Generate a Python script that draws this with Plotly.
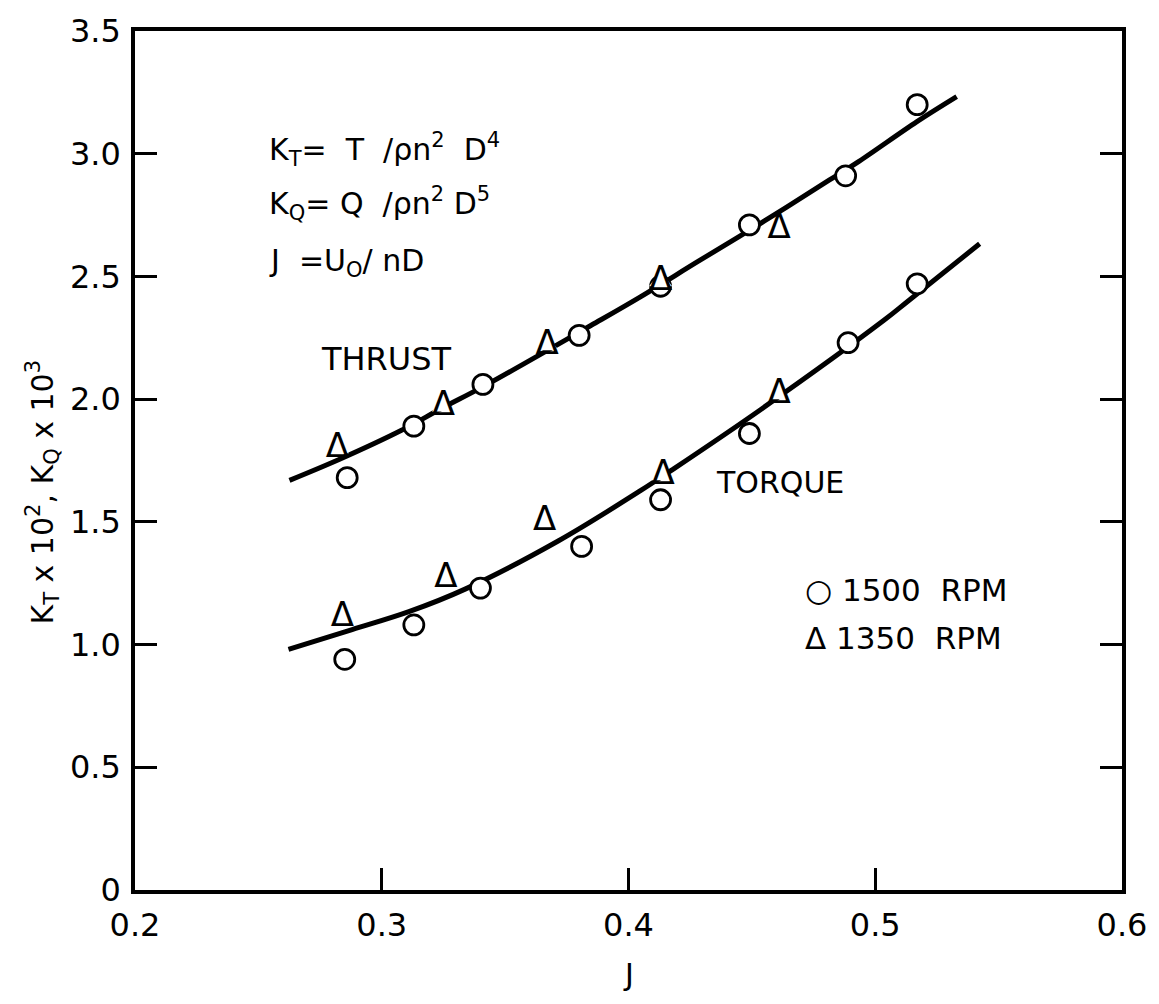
import plotly.graph_objects as go

# ---- data ----
# Thrust coefficient K_T x 10^2
j_thrust_1500 = [0.286, 0.313, 0.341, 0.380, 0.413, 0.449, 0.488, 0.517]
kt_1500 = [1.68, 1.89, 2.06, 2.26, 2.46, 2.71, 2.91, 3.20]
j_thrust_1350 = [0.282, 0.325, 0.367, 0.413, 0.461]
kt_1350 = [1.80, 1.97, 2.22, 2.48, 2.69]

# Torque coefficient K_Q x 10^3
j_torque_1500 = [0.285, 0.313, 0.340, 0.381, 0.413, 0.449, 0.489, 0.517]
kq_1500 = [0.94, 1.08, 1.23, 1.40, 1.59, 1.86, 2.23, 2.47]
j_torque_1350 = [0.284, 0.326, 0.366, 0.414, 0.461]
kq_1350 = [1.11, 1.27, 1.50, 1.69, 2.02]

# faired curves
j_thrust_curve = [0.2626, 0.2827, 0.3078, 0.3247, 0.3409, 0.3849, 0.4050, 0.4280, 0.4551, 0.4813, 0.4934, 0.5169, 0.5330]
kt_curve = [1.669, 1.754, 1.872, 1.965, 2.050, 2.301, 2.418, 2.560, 2.726, 2.892, 2.969, 3.131, 3.233]
j_torque_curve = [0.2622, 0.2880, 0.3110, 0.3340, 0.3715, 0.4050, 0.4180, 0.4535, 0.5035, 0.5136, 0.5423]
kq_curve = [0.980, 1.061, 1.134, 1.227, 1.422, 1.628, 1.714, 1.957, 2.321, 2.402, 2.633]

x_ticks = [0.2, 0.3, 0.4, 0.5, 0.6]
x_tick_labels = ["0.2", "0.3", "0.4", "0.5", "0.6"]
y_ticks = [0, 0.5, 1.0, 1.5, 2.0, 2.5, 3.0, 3.5]
y_tick_labels = ["0", "0.5", "1.0", "1.5", "2.0", "2.5", "3.0", "3.5"]

FONT = "DejaVu Sans"
NB = "\u00a0"
fig = go.Figure()

for xs, ys in [(j_thrust_curve, kt_curve), (j_torque_curve, kq_curve)]:
    fig.add_trace(go.Scatter(x=xs, y=ys, mode="lines", line=dict(color="black", width=5, shape="spline"),
                             showlegend=False, hoverinfo="skip"))

circ = dict(symbol="circle", size=20, color="white", line=dict(color="black", width=2.8))
for xs, ys in [(j_thrust_1500, kt_1500), (j_torque_1500, kq_1500)]:
    fig.add_trace(go.Scatter(x=xs, y=ys, mode="markers", marker=circ, showlegend=False))

for xs, ys in [(j_thrust_1350, kt_1350), (j_torque_1350, kq_1350)]:
    fig.add_trace(go.Scatter(x=xs, y=ys, mode="markers+text", text=["Δ"] * len(xs),
                             textposition="middle center",
                             textfont=dict(family=FONT, size=34, color="black"),
                             marker=dict(symbol="triangle-up", size=20, color="white", line=dict(width=0)),
                             showlegend=False))

ann = []
def add(text, x, y, size=28, xanchor="left", angle=0):
    ann.append(dict(text=text, x=x, y=y, xref="paper", yref="paper", showarrow=False,
                    xanchor=xanchor, yanchor="middle", textangle=angle,
                    font=dict(family=FONT, size=size, color="black")))

add(f"K<sub>T</sub>={NB}{NB}T{NB}{NB}/ρn<sup>2</sup>{NB}{NB}D<sup>4</sup>", 0.134, 0.862, size=30)
add(f"K<sub>Q</sub>={NB}Q{NB}{NB}/ρn<sup>2</sup>{NB}D<sup>5</sup>", 0.134, 0.799, size=30)
add(f"J{NB}{NB}=U<sub>O</sub>/{NB}nD", 0.134, 0.730, size=30)
add("THRUST", 0.1867, 0.618, size=32)
add("TORQUE", 0.587, 0.4745, size=30)
add(f"○{NB}1500{NB}{NB}RPM", 0.677, 0.3495, size=31)
add(f"Δ{NB}1350{NB}{NB}RPM", 0.677, 0.2928, size=31)
add("J", 0.4995, -0.098, size=30, xanchor="center")
add("K<sub>T</sub> x 10<sup>2</sup>, K<sub>Q</sub> x 10<sup>3</sup>", -0.094, 0.463, size=30,
    xanchor="center", angle=-90)

fig.update_layout(
    width=1159, height=1004,
    margin=dict(l=135, r=33, t=26, b=114),
    paper_bgcolor="white", plot_bgcolor="white",
    font=dict(family=FONT, color="black"),
    annotations=ann,
    showlegend=False,
)
fig.update_xaxes(range=[0.2, 0.6], tickvals=x_ticks, ticktext=x_tick_labels,
                 ticks="inside", ticklen=22, tickwidth=2.5, tickcolor="black",
                 showline=True, linewidth=3.5, linecolor="black", mirror=True,
                 showgrid=False, zeroline=False, tickfont=dict(family=FONT, size=32),
                 ticklabelstandoff=4)
fig.update_yaxes(range=[0, 3.5], tickvals=y_ticks, ticktext=y_tick_labels,
                 ticks="inside", ticklen=22, tickwidth=2.5, tickcolor="black",
                 showline=True, linewidth=3.5, linecolor="black", mirror="ticks",
                 showgrid=False, zeroline=False, tickfont=dict(family=FONT, size=32),
                 ticklabelstandoff=4)

fig.write_html("out.html")
